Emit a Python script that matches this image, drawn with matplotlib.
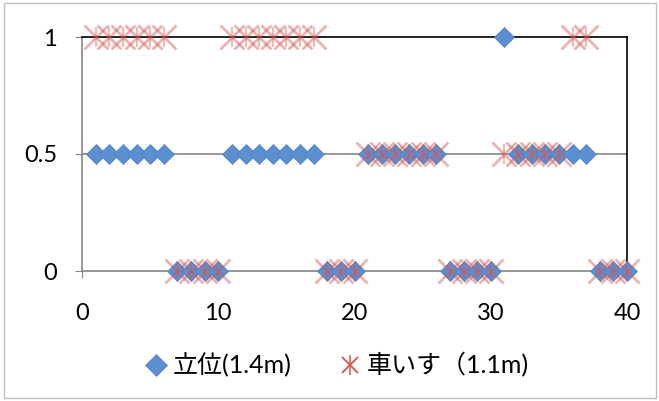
import matplotlib
matplotlib.use("Agg")
import matplotlib.pyplot as plt
from matplotlib.lines import Line2D

plt.rcParams['font.family'] = ['Lato', 'Noto Sans CJK JP', 'DejaVu Sans']

# data: index 1..40
x = list(range(1, 41))
standing = [0.5]*6 + [0]*4 + [0.5]*7 + [0]*3 + [0.5]*6 + [0]*4 + [1] + [0.5]*6 + [0]*3
wheelchair = [1]*6 + [0]*4 + [1]*7 + [0]*3 + [0.5]*6 + [0]*4 + [0.5]*5 + [1]*2 + [0]*3
label_standing = "立位(1.4m)"
label_wheel = "車いす（1.1m)"
xticks = [0, 10, 20, 30, 40]
yticks = [0, 0.5, 1]
ytick_labels = ["0", "0.5", "1"]

blue = '#4F81BD'
blue_fill = '#5B8FD2'
red = '#D65550'

fig = plt.figure(figsize=(6.59, 4.01), dpi=100)
ax = fig.add_axes([82/659, 1 - 271/401, (627 - 82)/659, (271 - 37)/401])

ax.plot(x, standing, ls='none', marker='D', ms=10.5, mfc=blue_fill, mec=blue,
        mew=0.5, clip_on=False, zorder=3)
ax.plot(x, wheelchair, ls='none', marker='x', ms=17, mew=2.0, color=red,
        alpha=0.45, clip_on=False, zorder=4)
ax.plot(x, wheelchair, ls='none', marker='|', ms=15, mew=1.6, color=red,
        alpha=0.4, clip_on=False, zorder=4)

ax.set_xlim(0, 40)
ax.set_ylim(0, 1)
ax.set_xticks(xticks)
ax.set_yticks(yticks)
ax.set_yticklabels(ytick_labels)
ax.tick_params(labelsize=17, length=5, color='#868686', direction='out')
ax.tick_params(axis='y', pad=13)
ax.tick_params(axis='x', pad=18)
ax.axhline(0.5, color='#878787', lw=1.2, zorder=1)

for side in ['left', 'bottom']:
    ax.spines[side].set_color('#868686')
    ax.spines[side].set_linewidth(1.2)
for side in ['top', 'right']:
    ax.spines[side].set_color('black')
    ax.spines[side].set_linewidth(1.2)

h1 = Line2D([], [], ls='none', marker='D', ms=11, mfc=blue_fill, mec=blue, mew=0.5)
h2a = Line2D([], [], ls='none', marker='x', ms=12, mew=1.3, color=red)
h2b = Line2D([], [], ls='none', marker='|', ms=14, mew=1.1, color=red)
fig.legend([h1, (h2a, h2b)], [label_standing, label_wheel], loc='center',
           bbox_to_anchor=(338/659, 1 - 365/401), ncol=2, frameon=False,
           fontsize=18, handlelength=0.7, handletextpad=0.3, columnspacing=2.0)

# outer chart border
fig.patches.append(plt.Rectangle((4/659, 3/401), 652/659, 395/401, transform=fig.transFigure,
                                 fill=False, ec='#BFBFBF', lw=1))

fig.savefig('out.png', dpi=100)
